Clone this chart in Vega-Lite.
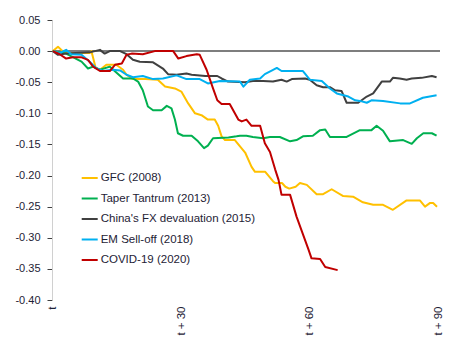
{
  "$schema": "https://vega.github.io/schema/vega-lite/v6.json",
  "width": 388,
  "height": 280,
  "autosize": {"type": "none"},
  "padding": {"left": 52, "top": 20, "right": 19, "bottom": 52},
  "background": "white",
  "config": {
    "view": {"stroke": null},
    "font": "Liberation Sans",
    "axisY": {
      "title": null,
      "grid": false, "tickSize": 5, "tickColor": "#404040",
      "domainColor": "#d0d0d0", "labelPadding": 7,
      "labelOverlap": false, "labelFlush": false,
      "labelFontSize": 11, "labelColor": "#1e2235", "labelFont": "Liberation Sans"
    },
    "legend": {
      "orient": "none",
      "legendX": 28.7,
      "legendY": 149,
      "padding": 0,
      "symbolType": "stroke",
      "symbolSize": 256,
      "symbolStrokeWidth": 2,
      "labelFontSize": 11.5,
      "labelFont": "Liberation Sans",
      "labelColor": "#1e2235",
      "labelOffset": 2,
      "rowPadding": 5.5,
      "title": null
    }
  },
  "data": {"values": [
    {"s":"GFC (2008)","d":0,"v":0},{"s":"GFC (2008)","d":1.2,"v":0.007},{"s":"GFC (2008)","d":2.3,"v":0},{"s":"GFC (2008)","d":3.5,"v":-0.003},{"s":"GFC (2008)","d":8.6,"v":-0.003},{"s":"GFC (2008)","d":9,"v":0},{"s":"GFC (2008)","d":10,"v":-0.027},{"s":"GFC (2008)","d":11,"v":-0.03},{"s":"GFC (2008)","d":12.5,"v":-0.022},{"s":"GFC (2008)","d":14.8,"v":-0.022},{"s":"GFC (2008)","d":16.4,"v":-0.03},{"s":"GFC (2008)","d":17.2,"v":-0.038},{"s":"GFC (2008)","d":18.7,"v":-0.045},{"s":"GFC (2008)","d":21.6,"v":-0.045},{"s":"GFC (2008)","d":24.5,"v":-0.046},{"s":"GFC (2008)","d":26.2,"v":-0.057},{"s":"GFC (2008)","d":28.5,"v":-0.06},{"s":"GFC (2008)","d":30,"v":-0.065},{"s":"GFC (2008)","d":31.6,"v":-0.084},{"s":"GFC (2008)","d":33.2,"v":-0.1},{"s":"GFC (2008)","d":34.7,"v":-0.103},{"s":"GFC (2008)","d":36.2,"v":-0.11},{"s":"GFC (2008)","d":37.8,"v":-0.11},{"s":"GFC (2008)","d":38.6,"v":-0.12},{"s":"GFC (2008)","d":39.4,"v":-0.137},{"s":"GFC (2008)","d":40.2,"v":-0.143},{"s":"GFC (2008)","d":42.5,"v":-0.143},{"s":"GFC (2008)","d":44.9,"v":-0.163},{"s":"GFC (2008)","d":46.4,"v":-0.186},{"s":"GFC (2008)","d":47.2,"v":-0.194},{"s":"GFC (2008)","d":49.6,"v":-0.194},{"s":"GFC (2008)","d":51.4,"v":-0.209},{"s":"GFC (2008)","d":51.9,"v":-0.212},{"s":"GFC (2008)","d":53.5,"v":-0.212},{"s":"GFC (2008)","d":54.3,"v":-0.218},{"s":"GFC (2008)","d":55.2,"v":-0.221},{"s":"GFC (2008)","d":56.7,"v":-0.218},{"s":"GFC (2008)","d":57.7,"v":-0.212},{"s":"GFC (2008)","d":59.3,"v":-0.215},{"s":"GFC (2008)","d":61.6,"v":-0.23},{"s":"GFC (2008)","d":63.1,"v":-0.23},{"s":"GFC (2008)","d":65.1,"v":-0.222},{"s":"GFC (2008)","d":67.8,"v":-0.233},{"s":"GFC (2008)","d":70.1,"v":-0.234},{"s":"GFC (2008)","d":72.4,"v":-0.243},{"s":"GFC (2008)","d":74.8,"v":-0.247},{"s":"GFC (2008)","d":77.1,"v":-0.247},{"s":"GFC (2008)","d":79.4,"v":-0.255},{"s":"GFC (2008)","d":82.6,"v":-0.24},{"s":"GFC (2008)","d":85.7,"v":-0.24},{"s":"GFC (2008)","d":86.9,"v":-0.25},{"s":"GFC (2008)","d":88.1,"v":-0.244},{"s":"GFC (2008)","d":88.8,"v":-0.244},{"s":"GFC (2008)","d":89.7,"v":-0.25},

    {"s":"Taper Tantrum (2013)","d":0,"v":0},{"s":"Taper Tantrum (2013)","d":3.1,"v":-0.004},{"s":"Taper Tantrum (2013)","d":6.7,"v":-0.017},{"s":"Taper Tantrum (2013)","d":8.2,"v":-0.028},{"s":"Taper Tantrum (2013)","d":9.4,"v":-0.025},{"s":"Taper Tantrum (2013)","d":11,"v":-0.03},{"s":"Taper Tantrum (2013)","d":13.3,"v":-0.025},{"s":"Taper Tantrum (2013)","d":16.4,"v":-0.044},{"s":"Taper Tantrum (2013)","d":18.7,"v":-0.044},{"s":"Taper Tantrum (2013)","d":19.9,"v":-0.049},{"s":"Taper Tantrum (2013)","d":21,"v":-0.063},{"s":"Taper Tantrum (2013)","d":22.2,"v":-0.089},{"s":"Taper Tantrum (2013)","d":23.4,"v":-0.095},{"s":"Taper Tantrum (2013)","d":25.4,"v":-0.095},{"s":"Taper Tantrum (2013)","d":26.6,"v":-0.088},{"s":"Taper Tantrum (2013)","d":27.7,"v":-0.092},{"s":"Taper Tantrum (2013)","d":28.5,"v":-0.11},{"s":"Taper Tantrum (2013)","d":29.2,"v":-0.132},{"s":"Taper Tantrum (2013)","d":30.4,"v":-0.136},{"s":"Taper Tantrum (2013)","d":32.4,"v":-0.136},{"s":"Taper Tantrum (2013)","d":33.9,"v":-0.145},{"s":"Taper Tantrum (2013)","d":35.3,"v":-0.156},{"s":"Taper Tantrum (2013)","d":36.2,"v":-0.152},{"s":"Taper Tantrum (2013)","d":37.4,"v":-0.14},{"s":"Taper Tantrum (2013)","d":41,"v":-0.139},{"s":"Taper Tantrum (2013)","d":42.9,"v":-0.137},{"s":"Taper Tantrum (2013)","d":43.7,"v":-0.136},{"s":"Taper Tantrum (2013)","d":45.2,"v":-0.136},{"s":"Taper Tantrum (2013)","d":46.7,"v":-0.138},{"s":"Taper Tantrum (2013)","d":49.1,"v":-0.14},{"s":"Taper Tantrum (2013)","d":50.7,"v":-0.138},{"s":"Taper Tantrum (2013)","d":53,"v":-0.138},{"s":"Taper Tantrum (2013)","d":55.4,"v":-0.145},{"s":"Taper Tantrum (2013)","d":56.9,"v":-0.143},{"s":"Taper Tantrum (2013)","d":58.4,"v":-0.137},{"s":"Taper Tantrum (2013)","d":60.7,"v":-0.136},{"s":"Taper Tantrum (2013)","d":62.4,"v":-0.127},{"s":"Taper Tantrum (2013)","d":63.6,"v":-0.126},{"s":"Taper Tantrum (2013)","d":64.7,"v":-0.138},{"s":"Taper Tantrum (2013)","d":68.6,"v":-0.138},{"s":"Taper Tantrum (2013)","d":71.7,"v":-0.127},{"s":"Taper Tantrum (2013)","d":74.4,"v":-0.127},{"s":"Taper Tantrum (2013)","d":75.6,"v":-0.12},{"s":"Taper Tantrum (2013)","d":77.1,"v":-0.128},{"s":"Taper Tantrum (2013)","d":78.7,"v":-0.145},{"s":"Taper Tantrum (2013)","d":81.8,"v":-0.143},{"s":"Taper Tantrum (2013)","d":83.8,"v":-0.149},{"s":"Taper Tantrum (2013)","d":85,"v":-0.14},{"s":"Taper Tantrum (2013)","d":86.5,"v":-0.132},{"s":"Taper Tantrum (2013)","d":88.5,"v":-0.132},{"s":"Taper Tantrum (2013)","d":89.6,"v":-0.136},

    {"s":"China's FX devaluation (2015)","d":0,"v":0},{"s":"China's FX devaluation (2015)","d":1.2,"v":-0.006},{"s":"China's FX devaluation (2015)","d":3.1,"v":-0.004},{"s":"China's FX devaluation (2015)","d":8.6,"v":-0.002},{"s":"China's FX devaluation (2015)","d":11,"v":0.002},{"s":"China's FX devaluation (2015)","d":12.1,"v":-0.004},{"s":"China's FX devaluation (2015)","d":13.3,"v":0},{"s":"China's FX devaluation (2015)","d":15.7,"v":0},{"s":"China's FX devaluation (2015)","d":17.2,"v":-0.005},{"s":"China's FX devaluation (2015)","d":18.7,"v":-0.014},{"s":"China's FX devaluation (2015)","d":20.3,"v":-0.017},{"s":"China's FX devaluation (2015)","d":23.4,"v":-0.018},{"s":"China's FX devaluation (2015)","d":25.7,"v":-0.028},{"s":"China's FX devaluation (2015)","d":26.9,"v":-0.037},{"s":"China's FX devaluation (2015)","d":28.9,"v":-0.038},{"s":"China's FX devaluation (2015)","d":31.2,"v":-0.036},{"s":"China's FX devaluation (2015)","d":32.4,"v":-0.038},{"s":"China's FX devaluation (2015)","d":35.6,"v":-0.04},{"s":"China's FX devaluation (2015)","d":38.4,"v":-0.04},{"s":"China's FX devaluation (2015)","d":39.4,"v":-0.044},{"s":"China's FX devaluation (2015)","d":40.9,"v":-0.049},{"s":"China's FX devaluation (2015)","d":44.9,"v":-0.05},{"s":"China's FX devaluation (2015)","d":46.7,"v":-0.048},{"s":"China's FX devaluation (2015)","d":49.1,"v":-0.048},{"s":"China's FX devaluation (2015)","d":51.4,"v":-0.049},{"s":"China's FX devaluation (2015)","d":53.4,"v":-0.046},{"s":"China's FX devaluation (2015)","d":54.6,"v":-0.049},{"s":"China's FX devaluation (2015)","d":55.8,"v":-0.045},{"s":"China's FX devaluation (2015)","d":58.9,"v":-0.044},{"s":"China's FX devaluation (2015)","d":60,"v":-0.046},{"s":"China's FX devaluation (2015)","d":61.6,"v":-0.055},{"s":"China's FX devaluation (2015)","d":63.1,"v":-0.058},{"s":"China's FX devaluation (2015)","d":64.7,"v":-0.058},{"s":"China's FX devaluation (2015)","d":65.9,"v":-0.063},{"s":"China's FX devaluation (2015)","d":67.4,"v":-0.064},{"s":"China's FX devaluation (2015)","d":68.6,"v":-0.083},{"s":"China's FX devaluation (2015)","d":71.3,"v":-0.083},{"s":"China's FX devaluation (2015)","d":73.3,"v":-0.073},{"s":"China's FX devaluation (2015)","d":74.8,"v":-0.068},{"s":"China's FX devaluation (2015)","d":76.8,"v":-0.049},{"s":"China's FX devaluation (2015)","d":78.7,"v":-0.049},{"s":"China's FX devaluation (2015)","d":79.4,"v":-0.043},{"s":"China's FX devaluation (2015)","d":81,"v":-0.044},{"s":"China's FX devaluation (2015)","d":82.6,"v":-0.046},{"s":"China's FX devaluation (2015)","d":83.8,"v":-0.044},{"s":"China's FX devaluation (2015)","d":86.1,"v":-0.043},{"s":"China's FX devaluation (2015)","d":88.5,"v":-0.04},{"s":"China's FX devaluation (2015)","d":89.6,"v":-0.042},

    {"s":"EM Sell-off (2018)","d":0,"v":0},{"s":"EM Sell-off (2018)","d":1.6,"v":-0.003},{"s":"EM Sell-off (2018)","d":3.1,"v":0.002},{"s":"EM Sell-off (2018)","d":4.3,"v":-0.005},{"s":"EM Sell-off (2018)","d":6.7,"v":-0.006},{"s":"EM Sell-off (2018)","d":8.6,"v":-0.017},{"s":"EM Sell-off (2018)","d":10.2,"v":-0.028},{"s":"EM Sell-off (2018)","d":11.7,"v":-0.032},{"s":"EM Sell-off (2018)","d":14,"v":-0.03},{"s":"EM Sell-off (2018)","d":15.7,"v":-0.031},{"s":"EM Sell-off (2018)","d":17.2,"v":-0.038},{"s":"EM Sell-off (2018)","d":18.7,"v":-0.042},{"s":"EM Sell-off (2018)","d":21,"v":-0.04},{"s":"EM Sell-off (2018)","d":23.4,"v":-0.045},{"s":"EM Sell-off (2018)","d":25.7,"v":-0.044},{"s":"EM Sell-off (2018)","d":28.9,"v":-0.039},{"s":"EM Sell-off (2018)","d":31.2,"v":-0.045},{"s":"EM Sell-off (2018)","d":34.3,"v":-0.045},{"s":"EM Sell-off (2018)","d":36.2,"v":-0.052},{"s":"EM Sell-off (2018)","d":39,"v":-0.048},{"s":"EM Sell-off (2018)","d":43.7,"v":-0.049},{"s":"EM Sell-off (2018)","d":44.5,"v":-0.057},{"s":"EM Sell-off (2018)","d":46,"v":-0.046},{"s":"EM Sell-off (2018)","d":48.4,"v":-0.044},{"s":"EM Sell-off (2018)","d":49.5,"v":-0.037},{"s":"EM Sell-off (2018)","d":51.2,"v":-0.031},{"s":"EM Sell-off (2018)","d":52.3,"v":-0.027},{"s":"EM Sell-off (2018)","d":53.4,"v":-0.032},{"s":"EM Sell-off (2018)","d":58.4,"v":-0.032},{"s":"EM Sell-off (2018)","d":60,"v":-0.046},{"s":"EM Sell-off (2018)","d":62.8,"v":-0.048},{"s":"EM Sell-off (2018)","d":64.7,"v":-0.06},{"s":"EM Sell-off (2018)","d":66.3,"v":-0.068},{"s":"EM Sell-off (2018)","d":69,"v":-0.073},{"s":"EM Sell-off (2018)","d":70.6,"v":-0.079},{"s":"EM Sell-off (2018)","d":71.7,"v":-0.08},{"s":"EM Sell-off (2018)","d":73.3,"v":-0.083},{"s":"EM Sell-off (2018)","d":74.4,"v":-0.079},{"s":"EM Sell-off (2018)","d":77.1,"v":-0.08},{"s":"EM Sell-off (2018)","d":81.1,"v":-0.084},{"s":"EM Sell-off (2018)","d":83.4,"v":-0.084},{"s":"EM Sell-off (2018)","d":86.4,"v":-0.075},{"s":"EM Sell-off (2018)","d":89.6,"v":-0.071},

    {"s":"COVID-19 (2020)","d":0,"v":0},{"s":"COVID-19 (2020)","d":1.6,"v":-0.005},{"s":"COVID-19 (2020)","d":3.1,"v":-0.012},{"s":"COVID-19 (2020)","d":4.7,"v":-0.01},{"s":"COVID-19 (2020)","d":6.7,"v":-0.01},{"s":"COVID-19 (2020)","d":8.2,"v":-0.014},{"s":"COVID-19 (2020)","d":9.4,"v":-0.025},{"s":"COVID-19 (2020)","d":11,"v":-0.032},{"s":"COVID-19 (2020)","d":13.3,"v":-0.032},{"s":"COVID-19 (2020)","d":14.5,"v":-0.022},{"s":"COVID-19 (2020)","d":16.1,"v":-0.02},{"s":"COVID-19 (2020)","d":17.2,"v":-0.006},{"s":"COVID-19 (2020)","d":18.4,"v":-0.004},{"s":"COVID-19 (2020)","d":21,"v":-0.005},{"s":"COVID-19 (2020)","d":23.8,"v":0},{"s":"COVID-19 (2020)","d":28.1,"v":0},{"s":"COVID-19 (2020)","d":29.3,"v":-0.012},{"s":"COVID-19 (2020)","d":31.2,"v":-0.008},{"s":"COVID-19 (2020)","d":33.6,"v":-0.005},{"s":"COVID-19 (2020)","d":34.3,"v":-0.006},{"s":"COVID-19 (2020)","d":35.9,"v":-0.03},{"s":"COVID-19 (2020)","d":37.4,"v":-0.06},{"s":"COVID-19 (2020)","d":38.4,"v":-0.079},{"s":"COVID-19 (2020)","d":39.4,"v":-0.085},{"s":"COVID-19 (2020)","d":41.3,"v":-0.085},{"s":"COVID-19 (2020)","d":43.3,"v":-0.11},{"s":"COVID-19 (2020)","d":44.1,"v":-0.113},{"s":"COVID-19 (2020)","d":45.2,"v":-0.11},{"s":"COVID-19 (2020)","d":46.4,"v":-0.12},{"s":"COVID-19 (2020)","d":48.4,"v":-0.12},{"s":"COVID-19 (2020)","d":49.5,"v":-0.148},{"s":"COVID-19 (2020)","d":50.7,"v":-0.162},{"s":"COVID-19 (2020)","d":51.9,"v":-0.19},{"s":"COVID-19 (2020)","d":52.7,"v":-0.207},{"s":"COVID-19 (2020)","d":53.4,"v":-0.231},{"s":"COVID-19 (2020)","d":55.4,"v":-0.231},{"s":"COVID-19 (2020)","d":56.9,"v":-0.266},{"s":"COVID-19 (2020)","d":59.7,"v":-0.319},{"s":"COVID-19 (2020)","d":60.4,"v":-0.333},{"s":"COVID-19 (2020)","d":62.4,"v":-0.334},{"s":"COVID-19 (2020)","d":63.6,"v":-0.347},{"s":"COVID-19 (2020)","d":66.5,"v":-0.352}
  ]},
  "layer": [
    {
      "mark": {"type": "rule", "color": "#7f7f7f", "strokeWidth": 1},
      "encoding": {
        "y": {
          "datum": 0, "type": "quantitative",
          "scale": {"domain": [-0.4, 0.05], "nice": false},
          "axis": {
            "values": [-0.4, -0.35, -0.3, -0.25, -0.2, -0.15, -0.1, -0.05, 0, 0.05],
            "labelExpr": "replace(format(datum.value, '.2f'), '\u2212', '-')"
          }
        }
      }
    },
    {
      "mark": {"type": "line", "strokeWidth": 2, "strokeJoin": "round"},
      "encoding": {
        "x": {
          "field": "d", "type": "quantitative",
          "scale": {"domain": [-0.2, 90.4], "nice": false, "zero": false},
          "axis": {
            "title": null, "values": [0, 30, 60, 90],
            "labelExpr": "datum.value == 0 ? 't' : 't + ' + datum.value",
            "labelAngle": -90, "labelFlush": false, "labelPadding": 6, "labelOverlap": false,
            "ticks": false, "domain": false, "grid": false,
            "labelFontSize": 11.5, "labelColor": "#1e2235", "labelFont": "Liberation Sans"
          }
        },
        "y": {
          "field": "v", "type": "quantitative",
          "scale": {"domain": [-0.4, 0.05], "nice": false},
          "axis": {
            "values": [-0.4, -0.35, -0.3, -0.25, -0.2, -0.15, -0.1, -0.05, 0, 0.05],
            "labelExpr": "replace(format(datum.value, '.2f'), '\u2212', '-')"
          }
        },
        "color": {
          "field": "s", "type": "nominal",
          "scale": {
            "domain": ["GFC (2008)", "Taper Tantrum (2013)", "China's FX devaluation (2015)", "EM Sell-off (2018)", "COVID-19 (2020)"],
            "range": ["#FFC000", "#00B050", "#404040", "#00B0F0", "#C00000"]
          },
          "legend": {"title": null}
        },
        "order": {"field": "d", "type": "quantitative"}
      }
    }
  ]
}
